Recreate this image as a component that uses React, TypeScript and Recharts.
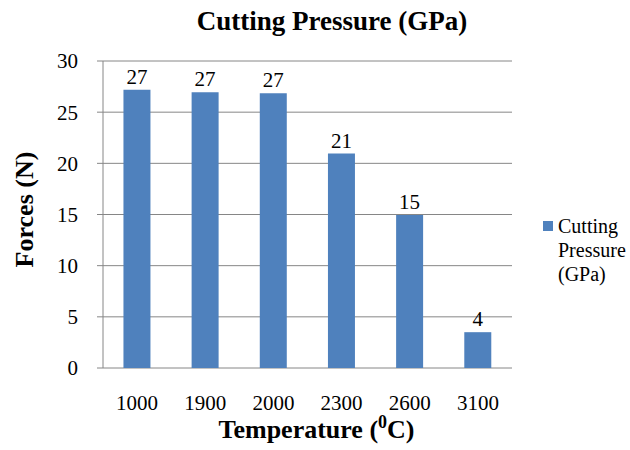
import { BarChart, Bar, XAxis, YAxis, CartesianGrid, Legend, LabelList, Label } from 'recharts';

const temperatures = ['1000', '1900', '2000', '2300', '2600', '3100'];
const cuttingPressure = [27.2, 26.95, 26.85, 20.95, 14.95, 3.5];
const forceTicks = [0, 5, 10, 15, 20, 25, 30];
const bandEdges = [0, 1, 2, 3, 4, 5, 6];

const rows = temperatures.map((t, i) => ({ temp: t, pressure: cuttingPressure[i] }));

const FONT = '"Liberation Serif", "Times New Roman", serif';
const BAR = '#4F81BD';
const GRID = '#868686';

function LegendBox() {
  return (
    <div style={{ fontFamily: FONT, fontSize: 20, lineHeight: '24px', color: '#000', display: 'flex' }}>
      <span style={{ display: 'inline-block', width: 10, height: 10, background: BAR, marginTop: 7, marginRight: 5 }} />
      <span>
        Cutting
        <br />
        Pressure
        <br />
        (GPa)
      </span>
    </div>
  );
}

// bold axis title with a raised "0" before the C
function TempLabel(props: any) {
  const vb = props.viewBox || {};
  const cx = vb.x + vb.width / 2 + 9;
  return (
    <text x={cx} y={438} textAnchor="middle" fontFamily={FONT} fontSize={26} fontWeight="bold" fill="#000">
      Temperature (
      <tspan dy={-10} fontSize={18}>0</tspan>
      <tspan dy={10}>C)</tspan>
    </text>
  );
}

function ForceLabel(props: any) {
  const vb = props.viewBox || {};
  const cy = vb.y + vb.height / 2 - 5;
  return (
    <text
      x={33}
      y={cy}
      transform={`rotate(-90, 33, ${cy})`}
      textAnchor="middle"
      fontFamily={FONT}
      fontSize={26}
      fontWeight="bold"
      fill="#000"
    >
      Forces (N)
    </text>
  );
}

export default function App() {
  return (
    <div style={{ position: 'absolute', left: 0, top: 0, width: 630, height: 450, background: '#fff' }}>
      <div
        style={{
          position: 'absolute',
          left: 0,
          width: 664,
          top: 6,
          textAlign: 'center',
          fontFamily: FONT,
          fontWeight: 'bold',
          fontSize: 27,
          lineHeight: '30px',
        }}
      >
        Cutting Pressure (GPa)
      </div>
      <BarChart
        width={630}
        height={450}
        data={rows}
        margin={{ top: 61, right: 118, bottom: 0, left: 0 }}
        barCategoryGap="30%"
        style={{ position: 'absolute', left: 0, top: 0 }}
      >
        <CartesianGrid vertical={false} stroke={GRID} strokeWidth={1} xAxisId="edge" />
        <XAxis
          xAxisId="edge"
          type="number"
          domain={[0, 6]}
          ticks={bandEdges}
          tick={false}
          tickSize={5}
          height={0}
          stroke={GRID}
          axisLine={{ stroke: GRID }}
          tickLine={{ stroke: GRID }}
        />
        <XAxis
          xAxisId="cat"
          dataKey="temp"
          height={82}
          axisLine={false}
          tickLine={false}
          tickMargin={21}
          tick={{ fontFamily: FONT, fontSize: 21, fill: '#000' }}
        >
          <Label content={<TempLabel />} />
        </XAxis>
        <YAxis
          width={103}
          domain={[0, 30]}
          ticks={forceTicks}
          interval={0}
          tickSize={6}
          tickMargin={19}
          axisLine={{ stroke: GRID }}
          tickLine={{ stroke: GRID }}
          tick={{ fontFamily: FONT, fontSize: 21, fill: '#000' }}
        >
          <Label content={<ForceLabel />} />
        </YAxis>
        <Legend
          layout="vertical"
          align="center"
          verticalAlign="middle"
          content={<LegendBox />}
          wrapperStyle={{ position: 'absolute', left: 543, top: 214, width: 90 }}
        />
        <Bar xAxisId="cat" dataKey="pressure" fill={BAR} isAnimationActive={false}>
          <LabelList
            dataKey="pressure"
            position="top"
            offset={6}
            formatter={(v: any) => Math.round(Number(v))}
            style={{ fontFamily: FONT, fontSize: 21, fill: '#000' }}
          />
        </Bar>
      </BarChart>
    </div>
  );
}
